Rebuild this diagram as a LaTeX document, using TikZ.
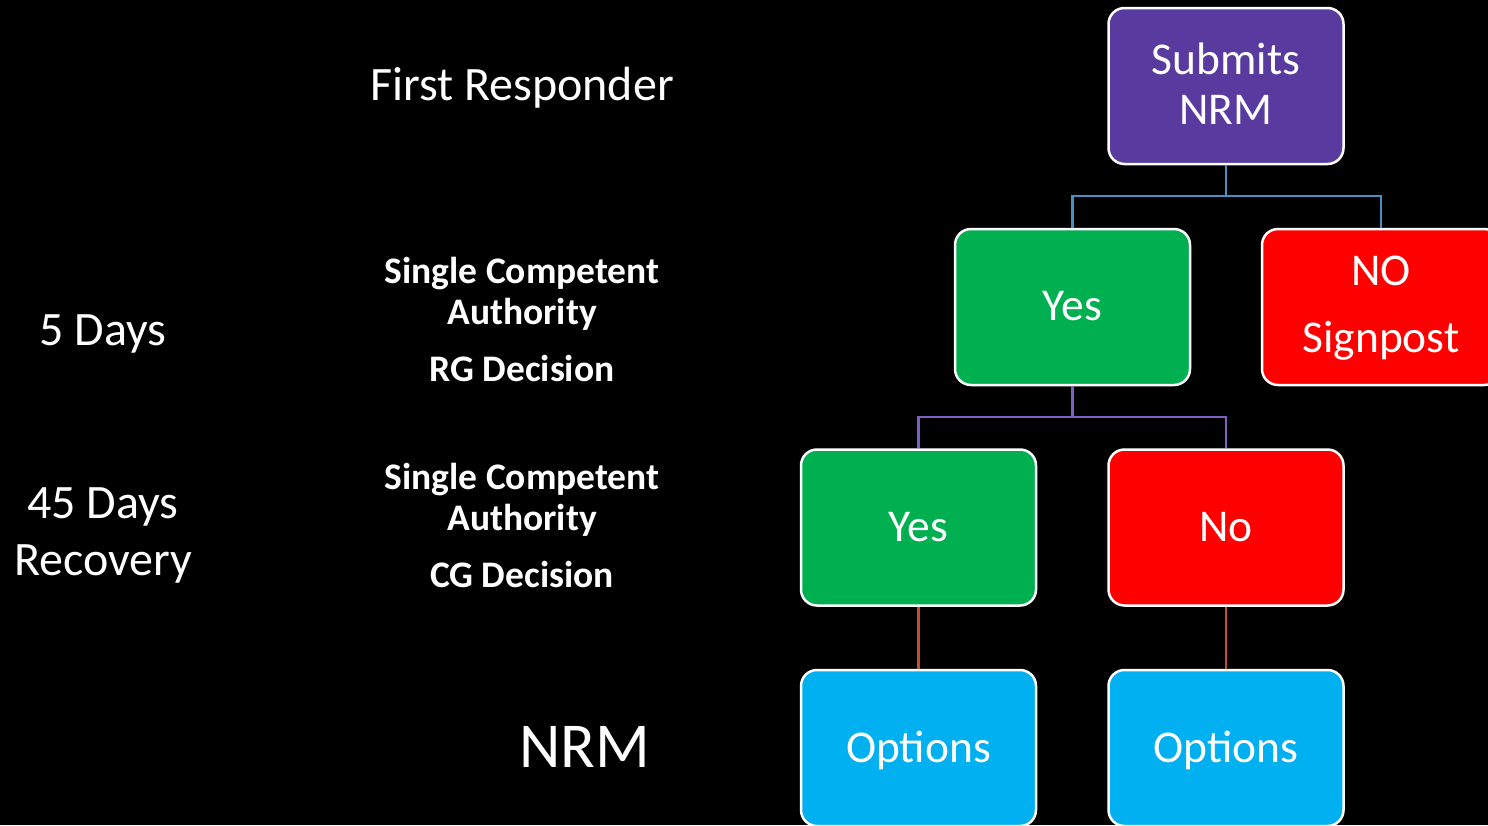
\documentclass[tikz,border=0pt]{standalone}
\usepackage{fontspec}
\setmainfont{Carlito}
\definecolor{cpurple}{RGB}{89,59,160}
\definecolor{cgreen}{RGB}{0,176,80}
\definecolor{cred}{RGB}{255,0,0}
\definecolor{cblue}{RGB}{0,176,240}
\definecolor{lineblue}{RGB}{70,145,195}
\definecolor{linepurple}{RGB}{125,95,195}
\definecolor{lineorange}{RGB}{195,80,45}
\begin{document}
\begin{tikzpicture}[x=1pt,y=-1pt,
  box/.style={draw=white,line width=2.5pt,rounded corners=16pt,minimum width=235pt,minimum height=156pt,inner sep=0pt},
  lbl/.style={text=white,anchor=base,inner sep=0pt,font=\fontsize{45.5}{50}\selectfont},
  side/.style={text=white,anchor=base,inner sep=0pt,font=\fontsize{48}{52}\selectfont},
  bside/.style={text=white,anchor=base,inner sep=0pt,font=\fontsize{37.5}{42}\selectfont\bfseries},
  conn/.style={line width=2.5pt}]
\clip (0,0) rectangle (1488,825);
\fill[black] (0,0) rectangle (1488,825);
% boxes
\node[box,fill=cpurple] (sub) at (1226,86) {};
\node[box,fill=cgreen] (yes1) at (1072.5,307) {};
\node[box,fill=cred,minimum width=238pt] (no1) at (1381,307) {};
\node[box,fill=cgreen] (yes2) at (918.5,527.5) {};
\node[box,fill=cred] (no2) at (1226,527.5) {};
\node[box,fill=cblue] (opt1) at (918.5,748) {};
\node[box,fill=cblue] (opt2) at (1226,748) {};
% connectors
\coordinate (j1) at (1226,196);
\coordinate (j2) at (1072.5,417);
\draw[conn,lineblue] (sub.south) -- (j1);
\draw[conn,lineblue] (yes1.north) |- (j1) -| (no1.north);
\draw[conn,linepurple] (yes1.south) -- (j2);
\draw[conn,linepurple] (yes2.north) |- (j2) -| (no2.north);
\draw[conn,lineorange] (yes2.south) -- (opt1.north);
\draw[conn,lineorange] (no2.south) -- (opt2.north);
% box labels
\node[lbl] (tsub1) at (1226,74.5) {Submits};
\node[lbl] (tsub2) at (1226,124.5) {NRM};
\node[lbl] (tyes1) at (1072.5,320.5) {Yes};
\node[lbl] (tno1a) at (1381,285.5) {NO};
\node[lbl] (tno1b) at (1381,352.5) {Signpost};
\node[lbl] (tyes2) at (918.5,541.5) {Yes};
\node[lbl] (tno2) at (1226,541.5) {No};
\node[lbl] (topt1) at (918.5,762.5) {Options};
\node[lbl] (topt2) at (1226,762.5) {Options};
% side labels
\node[side] (fr) at (522,100.5) {First Responder};
\node[bside] (sca1) at (522,283.5) {Single Competent};
\node[bside] (sca2) at (522,324.5) {Authority};
\node[bside] (rg) at (522,381.5) {RG Decision};
\node[bside] (scb1) at (522,489.5) {Single Competent};
\node[bside] (scb2) at (522,530.5) {Authority};
\node[bside] (cg) at (522,587.5) {CG Decision};
\node[side] (d5) at (103,345.5) {5 Days};
\node[side] (d45) at (103,518.5) {45 Days};
\node[side] (rec) at (103,575.5) {Recovery};
\node[side,font=\fontsize{64}{70}\selectfont] (nrm) at (585,767) {NRM};
\end{tikzpicture}
\end{document}
